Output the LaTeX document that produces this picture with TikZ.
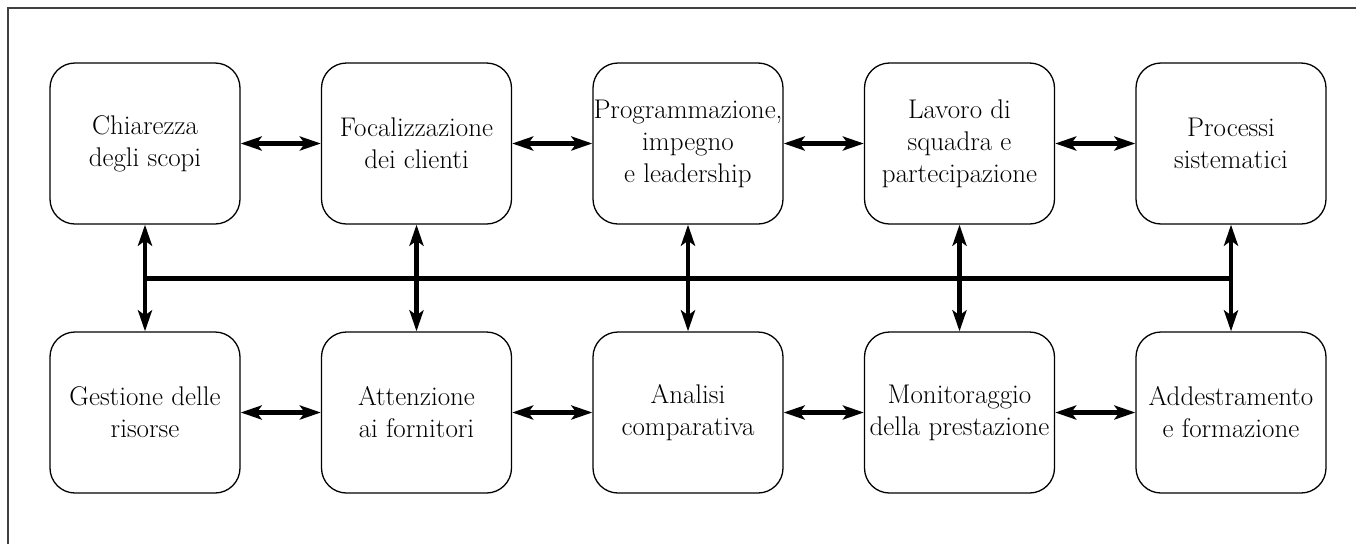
\documentclass[tikz,border=0pt]{standalone}
\usetikzlibrary{arrows.meta,calc}
\newcommand\lnx[1]{\makebox[0pt]{#1}}
\begin{document}
\begin{tikzpicture}[x=1pt,y=-1pt,
  box/.style={draw, line width=1.3pt, rounded corners=25pt, minimum width=190pt,
    minimum height=161pt, inner sep=0pt, align=center,
    font=\fontsize{27}{32}\selectfont},
  link/.style={line width=4.2pt,
    {Stealth[length=21pt,width=14pt,inset=5pt]}-{Stealth[length=21pt,width=14pt,inset=5pt]}},
  bus/.style={line width=5pt},
  frame/.style={draw=black!75, line width=1.2pt}]
\useasboundingbox (0,0) rectangle (1356,544);
\coordinate (f1) at (8,544);
\coordinate (f2) at (8,8);
\coordinate (f3) at (1356,8);
\draw[frame] (f1) -- (f2) -- (f3);
% top row
\node[box] (t1) at (145,143.5) {\lnx{Chiarezza}\\\lnx{degli scopi}};
\node[box] (t2) at (416.5,143.5) {\lnx{Focalizzazione}\\\lnx{dei clienti}};
\node[box] (t3) at (688,143.5) {\lnx{Programmazione,}\\\lnx{impegno}\\\lnx{e leadership}};
\node[box] (t4) at (959.5,143.5) {\lnx{Lavoro di}\\\lnx{squadra e}\\\lnx{partecipazione}};
\node[box] (t5) at (1231,143.5) {\lnx{Processi}\\\lnx{sistematici}};
% bottom row
\node[box] (b1) at (145,412.5) {\lnx{Gestione delle}\\\lnx{risorse}};
\node[box] (b2) at (416.5,412.5) {\lnx{Attenzione}\\\lnx{ai fornitori}};
\node[box] (b3) at (688,412.5) {\lnx{Analisi}\\\lnx{comparativa}};
\node[box] (b4) at (959.5,412.5) {\lnx{Monitoraggio}\\\lnx{della prestazione}};
\node[box] (b5) at (1231,412.5) {\lnx{Addestramento}\\\lnx{e formazione}};
% horizontal links
\foreach \a/\b in {t1/t2,t2/t3,t3/t4,t4/t5,b1/b2,b2/b3,b3/b4,b4/b5}
  \draw[link] (\a.east) -- (\b.west);
% bus
\coordinate (busl) at ($(t1.south)!0.5!(b1.north)$);
\coordinate (busr) at ($(t5.south)!0.5!(b5.north)$);
\draw[bus] (busl) -- (busr);
% vertical links
\foreach \i in {1,...,5}
  \draw[link] (t\i.south) -- (b\i.north);
\end{tikzpicture}
\end{document}
